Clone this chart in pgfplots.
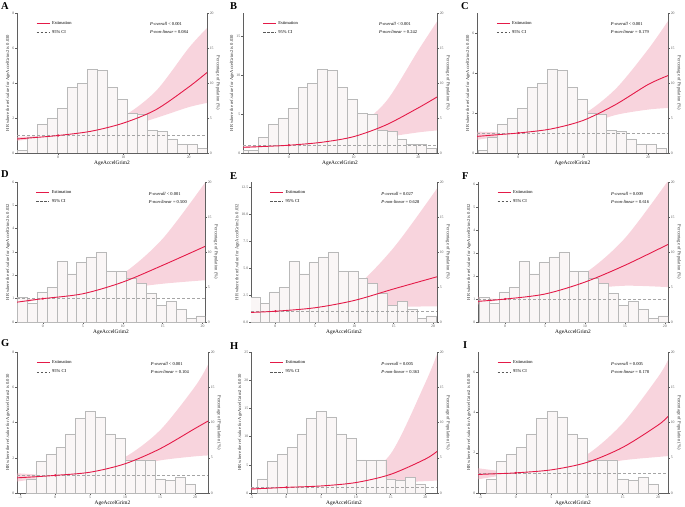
\documentclass[border=0pt]{standalone}
\usepackage{fontspec}
\setmainfont{Liberation Serif}
\usepackage{pgfplots}
\usepackage{pgfplotstable}
\pgfplotsset{compat=1.18}
\usepgfplotslibrary{fillbetween}

\definecolor{curvered}{RGB}{228,26,72}
\definecolor{bandpink}{RGB}{240,160,180}
\definecolor{barfill}{RGB}{250,246,246}
\definecolor{bargray}{RGB}{185,185,185}
\definecolor{axgray}{RGB}{95,95,95}
\definecolor{tickgray}{RGB}{90,90,90}
\definecolor{refgray}{RGB}{165,165,165}

\newcommand\tickfont{\fontsize{3.8}{4}\selectfont}
\newcommand\labfont{\fontsize{4.6}{5}\selectfont}
\newcommand\xlabfont{\fontsize{5.4}{6}\selectfont}
\newcommand\pfont{\fontsize{4.5}{5}\selectfont}

\tikzset{
  est/.style={curvered, line width=0.9bp},
  refline/.style={refgray, line width=0.6bp, dash pattern=on 3bp off 2bp},
  legci/.style={black!65, line width=0.6bp, dash pattern=on 2.5bp off 1.5bp},
  band/.style={fill=bandpink, fill opacity=0.45, draw=none},
  pnode/.style={anchor=west, font=\pfont, inner sep=0pt},
  letter/.style={anchor=north west, inner sep=0pt, font=\fontsize{10.5}{11}\selectfont\bfseries}
}

\pgfplotsset{
  rcsbase/.style={scale only axis, anchor=south west,
    tick label style={font=\tickfont, color=tickgray, inner sep=0.8bp},
    axis line style={draw=axgray, line width=0.5bp},
    tick style={draw=axgray, line width=0.4bp},
    major tick length=1.8bp, tick align=outside,
    /pgf/number format/assume math mode=true},
  histax/.style={rcsbase, axis x line=none, axis y line*=right,
    ymin=0, ymax=20, ytick={0,5,10,15,20},
    ylabel={Percentage of Population (\%)},
    ylabel style={font=\labfont, color=black!80, rotate=180, inner sep=1.2bp}},
  hrax/.style={rcsbase, axis x line*=bottom, axis y line*=left, ymin=0,
    xlabel={AgeAccelGrim2},
    xlabel style={font=\xlabfont, inner sep=1.2bp},
    ylabel style={font=\labfont, color=black!80, inner sep=1.2bp},
    legend style={at={(rel axis cs:0.10,0.955)}, anchor=north west,
      draw=none, fill=none, inner sep=0pt, row sep=0.6bp,
      font=\pfont, cells={anchor=west}},
    legend image code/.code={\draw[##1] (0bp,0bp) -- (13bp,0bp);}},
  bars/.style={ybar interval, fill=barfill, draw=bargray, line width=0.4bp}
}

% histogram of the population, one per row of panels (percent)
\pgfplotstableread{
x y
-6.28 0.4
-4.75 2.2
-3.22 4.1
-1.69 5.0
-0.16 6.4
1.37 9.4
2.90 9.9
4.43 11.9
5.96 11.8
7.49 9.4
9.02 7.7
10.55 5.7
12.08 5.6
13.61 3.2
15.14 3.1
16.67 2.0
18.20 1.3
19.73 1.2
21.26 0.7
22.79 0
}\histA

\pgfplotstableread{
x y
-3.24 3.5
-1.995 2.7
-0.75 4.3
0.495 5.0
1.74 8.7
2.985 6.9
4.23 8.5
5.475 9.3
6.72 10.0
7.965 7.3
9.21 7.3
10.455 6.2
11.70 5.5
12.945 4.1
14.19 2.4
15.435 3.0
16.68 1.8
17.925 0.5
19.17 0.9
20.415 0
}\histD

\pgfplotstableread{
x y
-4.2 2.0
-2.776 4.5
-1.352 5.5
0.072 6.5
1.496 8.4
2.92 10.6
4.344 11.6
5.768 10.8
7.192 8.4
8.616 7.8
10.04 4.7
11.464 4.6
12.888 4.7
14.312 2.0
15.736 1.8
17.16 2.2
18.584 1.3
20.008 0
}\histG

\begin{document}
\begin{tikzpicture}
\path (0bp,0bp) rectangle (685bp,505bp);

% ---------------- A ----------------
\begin{axis}[histax, at={(17bp,352bp)}, width=190bp, height=140bp, xmin=-6.3, xmax=22.8]
\addplot[bars] table[x=x,y=y] {\histA};
\end{axis}
\begin{axis}[hrax, at={(17bp,352bp)}, width=190bp, height=140bp, xmin=-6.3, xmax=22.8,
  ymax=8, xtick={0,10,20}, ytick={0,2,4,6,8},
  ylabel={HR where the ref.value for AgeAccelGrim2 is 0.030}]
\addplot[name path=up, draw=none, smooth, forget plot] coordinates {(-6.3,0.92) (-3,0.97) (0,1) (5,1.40) (10,2.10) (15,3.55) (20,6.0) (22.8,7.14)};
\addplot[name path=lo, draw=none, smooth, forget plot] coordinates {(-6.3,0.70) (-3,0.84) (0,1) (5,1.12) (10,1.45) (15,2.0) (20,2.62) (22.8,2.86)};
\addplot[band, forget plot] fill between[of=up and lo];
\addplot[refline, forget plot] coordinates {(-6.3,1) (22.8,1)};
\addplot[est, smooth, forget plot] coordinates {(-6.3,0.80) (-3,0.90) (0,1) (5,1.24) (10,1.71) (15,2.48) (20,3.77) (22.8,4.60)};
\addplot[only marks, mark=*, mark size=0.9bp, curvered, forget plot] coordinates {(0,1)};
\addlegendimage{est}\addlegendentry{Estimation}
\addlegendimage{legci}\addlegendentry{95\% CI}
\node[pnode] at (rel axis cs:0.70,0.92) {\textit{P-overall} < 0.001};
\node[pnode] at (rel axis cs:0.70,0.865) {\textit{P-non-linear} = 0.084};
\end{axis}

% ---------------- B ----------------
\begin{axis}[histax, at={(243bp,352bp)}, width=194bp, height=140bp, xmin=-7.1, xmax=22.9]
\addplot[bars] coordinates {(-7.1,0.45) (-6.28,0)};
\addplot[bars] table[x=x,y=y] {\histA};
\end{axis}
\begin{axis}[hrax, at={(243bp,352bp)}, width=194bp, height=140bp, xmin=-7.1, xmax=22.9,
  ymax=18, xtick={0,10,20}, ytick={0,5,10,15},
  ylabel={HR where the ref.value for AgeAccelGrim2 is 0.030}]
\addplot[name path=up, draw=none, smooth, forget plot] coordinates {(-7.1,0.86) (-3,0.94) (0,1) (5,1.65) (10,3.1) (15,6.6) (20,13.2) (22.9,16.9)};
\addplot[name path=lo, draw=none, smooth, forget plot] coordinates {(-7.1,0.62) (-3,0.80) (0,1) (5,1.15) (10,1.5) (15,2.05) (20,2.65) (22.9,2.9)};
\addplot[band, forget plot] fill between[of=up and lo];
\addplot[refline, forget plot] coordinates {(-7.1,1) (22.9,1)};
\addplot[est, smooth, forget plot] coordinates {(-7.1,0.73) (-3,0.87) (0,1) (5,1.37) (10,2.1) (15,3.6) (20,5.8) (22.9,7.2)};
\addplot[only marks, mark=*, mark size=0.9bp, curvered, forget plot] coordinates {(0,1)};
\addlegendimage{est}\addlegendentry{Estimation}
\addlegendimage{legci}\addlegendentry{95\% CI}
\node[pnode] at (rel axis cs:0.70,0.92) {\textit{P-overall} < 0.001};
\node[pnode] at (rel axis cs:0.70,0.865) {\textit{P-non-linear} = 0.242};
\end{axis}

% ---------------- C ----------------
\begin{axis}[histax, at={(477bp,352bp)}, width=191bp, height=140bp, xmin=-6.4, xmax=23.1]
\addplot[bars] table[x=x,y=y] {\histA};
\end{axis}
\begin{axis}[hrax, at={(477bp,352bp)}, width=191bp, height=140bp, xmin=-6.4, xmax=23.1,
  ymax=7, xtick={0,10,20}, ytick={0,2,4,6},
  ylabel={HR where the ref.value for AgeAccelGrim2 is 0.030}]
\addplot[name path=up, draw=none, smooth, forget plot] coordinates {(-6.4,1.07) (-3,1.03) (0,1) (5,1.36) (10,1.93) (15,3.2) (20,5.17) (23.1,6.6)};
\addplot[name path=lo, draw=none, smooth, forget plot] coordinates {(-6.4,0.66) (-3,0.82) (0,1) (5,1.07) (10,1.37) (15,1.9) (20,2.17) (23.1,2.25)};
\addplot[band, forget plot] fill between[of=up and lo];
\addplot[refline, forget plot] coordinates {(-6.4,1) (23.1,1)};
\addplot[est, smooth, forget plot] coordinates {(-6.4,0.83) (-3,0.92) (0,1) (5,1.2) (10,1.63) (15,2.42) (20,3.42) (23.1,3.87)};
\addplot[only marks, mark=*, mark size=0.9bp, curvered, forget plot] coordinates {(0,1)};
\addlegendimage{est}\addlegendentry{Estimation}
\addlegendimage{legci}\addlegendentry{95\% CI}
\node[pnode] at (rel axis cs:0.70,0.92) {\textit{P-overall} < 0.001};
\node[pnode] at (rel axis cs:0.70,0.865) {\textit{P-non-linear} = 0.179};
\end{axis}

% ---------------- D ----------------
\begin{axis}[histax, at={(17bp,183bp)}, width=188bp, height=140bp, xmin=-3.24, xmax=20.3]
\addplot[bars] table[x=x,y=y] {\histD};
\end{axis}
\begin{axis}[hrax, at={(17bp,183bp)}, width=188bp, height=140bp, xmin=-3.24, xmax=20.3,
  ymax=6, xtick={0,5,10,15,20}, ytick={0,1,2,3,4,5,6},
  ylabel={HR where the ref.value for AgeAccelGrim2 is 0.032}]
\addplot[name path=up, draw=none, smooth, forget plot] coordinates {(-3.24,1.0) (0,1) (5,1.36) (10,2.07) (15,3.57) (20.3,5.97)};
\addplot[name path=lo, draw=none, smooth, forget plot] coordinates {(-3.24,0.72) (0,1) (5,1.09) (10,1.42) (15,1.64) (20.3,1.79)};
\addplot[band, forget plot] fill between[of=up and lo];
\addplot[refline, forget plot] coordinates {(-3.24,1) (20.3,1)};
\addplot[est, smooth, forget plot] coordinates {(-3.24,0.85) (0,1) (5,1.21) (10,1.71) (15,2.43) (20.3,3.24)};
\addplot[only marks, mark=*, mark size=0.9bp, curvered, forget plot] coordinates {(0,1)};
\addlegendimage{est}\addlegendentry{Estimation}
\addlegendimage{legci}\addlegendentry{95\% CI}
\node[pnode] at (rel axis cs:0.70,0.915) {\textit{P-overall} < 0.001};
\node[pnode] at (rel axis cs:0.70,0.86) {\textit{P-non-linear} = 0.500};
\end{axis}

% ---------------- E ----------------
\begin{axis}[histax, at={(251bp,183bp)}, width=186bp, height=140bp, xmin=-3.1, xmax=20.5]
\addplot[bars] table[x=x,y=y] {\histD};
\end{axis}
\begin{axis}[hrax, at={(251bp,183bp)}, width=186bp, height=140bp, xmin=-3.1, xmax=20.5,
  ymax=13, xtick={0,5,10,15,20}, ytick={0,2.5,5,7.5,10,12.5},
  yticklabel style={/pgf/number format/.cd, fixed, fixed zerofill, precision=1},
  ylabel={HR where the ref.value for AgeAccelGrim2 is 0.032}]
\addplot[name path=up, draw=none, smooth, forget plot] coordinates {(-3.1,1.07) (0,1) (5,1.69) (10,3.2) (15,6.9) (20.5,12.4)};
\addplot[name path=lo, draw=none, smooth, forget plot] coordinates {(-3.1,0.75) (0,1) (5,1.15) (10,1.38) (15,1.42) (20.5,1.45)};
\addplot[band, forget plot] fill between[of=up and lo];
\addplot[refline, forget plot] coordinates {(-3.1,1) (20.5,1)};
\addplot[est, smooth, forget plot] coordinates {(-3.1,0.89) (0,1) (5,1.32) (10,2.0) (15,3.07) (20.5,4.2)};
\addplot[only marks, mark=*, mark size=0.9bp, curvered, forget plot] coordinates {(0,1)};
\addlegendimage{est}\addlegendentry{Estimation}
\addlegendimage{legci}\addlegendentry{95\% CI}
\node[pnode] at (rel axis cs:0.70,0.915) {\textit{P-overall} = 0.027};
\node[pnode] at (rel axis cs:0.70,0.86) {\textit{P-non-linear} = 0.628};
\end{axis}

% ---------------- F ----------------
\begin{axis}[histax, at={(478bp,183bp)}, width=190bp, height=140bp, xmin=-3.4, xmax=20.4]
\addplot[bars] table[x=x,y=y] {\histD};
\end{axis}
\begin{axis}[hrax, at={(478bp,183bp)}, width=190bp, height=140bp, xmin=-3.4, xmax=20.4,
  ymax=6.1, xtick={0,5,10,15,20}, ytick={0,1,2,3,4,5,6},
  ylabel={HR where the ref.value for AgeAccelGrim2 is 0.032}]
\addplot[name path=up, draw=none, smooth, forget plot] coordinates {(-3.4,1.1) (0,1) (5,1.4) (10,2.13) (15,3.65) (20.4,6.15)};
\addplot[name path=lo, draw=none, smooth, forget plot] coordinates {(-3.4,0.76) (0,1) (5,1.1) (10,1.42) (15,1.58) (20.4,1.52)};
\addplot[band, forget plot] fill between[of=up and lo];
\addplot[refline, forget plot] coordinates {(-3.4,1) (20.4,1)};
\addplot[est, smooth, forget plot] coordinates {(-3.4,0.9) (0,1) (5,1.22) (10,1.74) (15,2.47) (20.4,3.38)};
\addplot[only marks, mark=*, mark size=0.9bp, curvered, forget plot] coordinates {(0,1)};
\addlegendimage{est}\addlegendentry{Estimation}
\addlegendimage{legci}\addlegendentry{95\% CI}
\node[pnode] at (rel axis cs:0.70,0.915) {\textit{P-overall} = 0.009};
\node[pnode] at (rel axis cs:0.70,0.86) {\textit{P-non-linear} = 0.616};
\end{axis}

% ---------------- G ----------------
\begin{axis}[histax, at={(17bp,12bp)}, width=191bp, height=141bp, xmin=-5.47, xmax=21.86]
\addplot[bars] table[x=x,y=y] {\histG};
\end{axis}
\begin{axis}[hrax, at={(17bp,12bp)}, width=191bp, height=141bp, xmin=-5.47, xmax=21.86,
  ymax=8, xtick={-5,0,5,10,15,20}, ytick={0,2,4,6,8},
  ylabel={HR where the ref.value for AgeAccelGrim2 is 0.030}]
\addplot[name path=up, draw=none, smooth, forget plot] coordinates {(-5.47,1.12) (-2.5,1.05) (0,1) (5,1.31) (10,2.04) (15,3.56) (20,6.04) (21.86,7.28)};
\addplot[name path=lo, draw=none, smooth, forget plot] coordinates {(-5.47,0.65) (-2.5,0.82) (0,1) (5,1.08) (10,1.4) (15,1.85) (20,2.08) (21.86,2.13)};
\addplot[band, forget plot] fill between[of=up and lo];
\addplot[refline, forget plot] coordinates {(-5.47,1) (21.86,1)};
\addplot[est, smooth, forget plot] coordinates {(-5.47,0.86) (-2.5,0.93) (0,1) (5,1.18) (10,1.66) (15,2.51) (20,3.66) (21.86,4.08)};
\addplot[only marks, mark=*, mark size=0.9bp, curvered, forget plot] coordinates {(0,1)};
\addlegendimage{est}\addlegendentry{Estimation}
\addlegendimage{legci}\addlegendentry{95\% CI}
\node[pnode] at (rel axis cs:0.70,0.915) {\textit{P-overall} < 0.001};
\node[pnode] at (rel axis cs:0.70,0.86) {\textit{P-non-linear} = 0.104};
\end{axis}

% ---------------- H ----------------
\begin{axis}[histax, at={(251bp,12bp)}, width=186bp, height=141bp, xmin=-5.1, xmax=21.7]
\addplot[bars] table[x=x,y=y] {\histG};
\end{axis}
\begin{axis}[hrax, at={(251bp,12bp)}, width=186bp, height=141bp, xmin=-5.1, xmax=21.7,
  ymax=25, xtick={-5,0,5,10,15,20}, ytick={0,5,10,15,20,25},
  ylabel={HR where the ref.value for AgeAccelGrim2 is 0.030}]
\addplot[name path=up, draw=none, smooth, forget plot] coordinates {(-5.1,1.0) (-2.5,1.0) (0,1) (5,1.5) (10,2.7) (15,6.9) (20,19.5) (21.7,24.6)};
\addplot[name path=lo, draw=none, smooth, forget plot] coordinates {(-5.1,0.52) (-2.5,0.72) (0,1) (5,1.06) (10,1.4) (15,1.8) (20,2.1) (21.7,2.2)};
\addplot[band, forget plot] fill between[of=up and lo];
\addplot[refline, forget plot] coordinates {(-5.1,1) (21.7,1)};
\addplot[est, smooth, forget plot] coordinates {(-5.1,0.72) (-2.5,0.85) (0,1) (5,1.25) (10,1.85) (15,3.3) (20,6.0) (21.7,7.37)};
\addplot[only marks, mark=*, mark size=0.9bp, curvered, forget plot] coordinates {(0,1)};
\addlegendimage{est}\addlegendentry{Estimation}
\addlegendimage{legci}\addlegendentry{95\% CI}
\node[pnode] at (rel axis cs:0.70,0.915) {\textit{P-overall} = 0.005};
\node[pnode] at (rel axis cs:0.70,0.86) {\textit{P-non-linear} = 0.363};
\end{axis}

% ---------------- I ----------------
\begin{axis}[histax, at={(478bp,12bp)}, width=190bp, height=141bp, xmin=-5.33, xmax=21.4]
\addplot[bars] table[x=x,y=y] {\histG};
\end{axis}
\begin{axis}[hrax, at={(478bp,12bp)}, width=190bp, height=141bp, xmin=-5.33, xmax=21.4,
  ymax=7, xtick={-5,0,5,10,15,20}, ytick={0,2,4,6},
  ylabel={HR where the ref.value for AgeAccelGrim2 is 0.030}]
\addplot[name path=up, draw=none, smooth, forget plot] coordinates {(-5.33,1.23) (-2.5,1.1) (0,1) (5,1.26) (10,1.91) (15,3.45) (20,5.76) (21.4,6.6)};
\addplot[name path=lo, draw=none, smooth, forget plot] coordinates {(-5.33,0.68) (-2.5,0.84) (0,1) (5,1.06) (10,1.28) (15,1.62) (20,1.79) (21.4,1.83)};
\addplot[band, forget plot] fill between[of=up and lo];
\addplot[refline, forget plot] coordinates {(-5.33,1) (21.4,1)};
\addplot[est, smooth, forget plot] coordinates {(-5.33,0.92) (-2.5,0.96) (0,1) (5,1.15) (10,1.52) (15,2.26) (20,3.37) (21.4,3.8)};
\addplot[only marks, mark=*, mark size=0.9bp, curvered, forget plot] coordinates {(0,1)};
\addlegendimage{est}\addlegendentry{Estimation}
\addlegendimage{legci}\addlegendentry{95\% CI}
\node[pnode] at (rel axis cs:0.70,0.915) {\textit{P-overall} = 0.005};
\node[pnode] at (rel axis cs:0.70,0.86) {\textit{P-non-linear} = 0.178};
\end{axis}

% panel letters
\node[letter] at (1bp,503bp) {A};
\node[letter] at (230bp,503bp) {B};
\node[letter] at (461bp,503bp) {C};
\node[letter] at (1bp,335bp) {D};
\node[letter] at (230bp,333bp) {E};
\node[letter] at (462bp,333bp) {F};
\node[letter] at (1bp,166bp) {G};
\node[letter] at (230bp,163bp) {H};
\node[letter] at (463bp,164bp) {I};
\end{tikzpicture}
\end{document}
